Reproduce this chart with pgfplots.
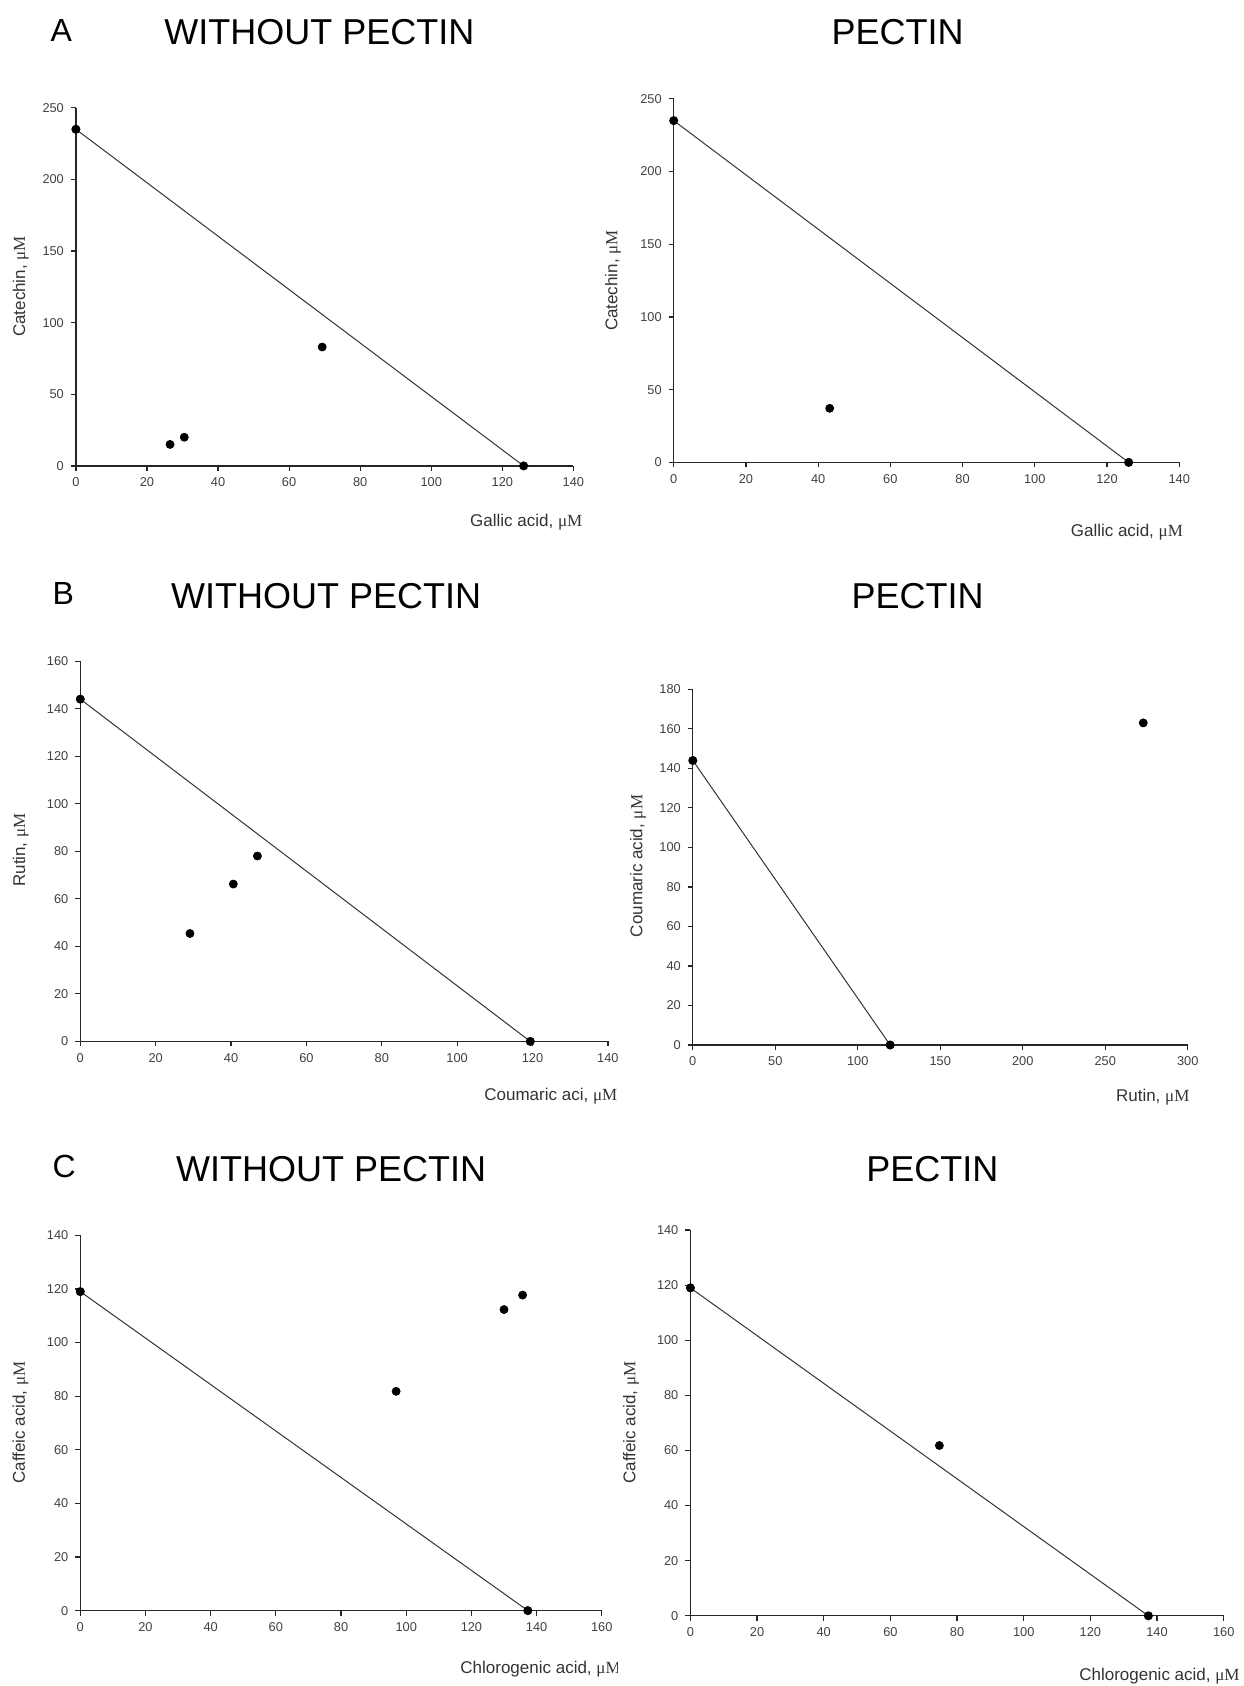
\documentclass[border=0pt]{standalone}
\usepackage{fontspec}
\setmainfont{Liberation Sans}
\newfontfamily\serif{Liberation Serif}
\usepackage{pgfplots}
\pgfplotsset{compat=1.18}

\newcommand{\uM}{{\serif μM}}
\newcommand{\ttl}{\fontsize{18bp}{20bp}\selectfont}
\newcommand{\lbl}{\fontsize{8.5bp}{10bp}\selectfont}

\pgfplotsset{
  panel/.style={
    scale only axis,
    anchor=south west,
    axis x line*=bottom,
    axis y line*=left,
    axis line style={-, line width=0.6bp, black!85},
    tick align=outside,
    major tick length=2.5bp,
    tick style={black!85, line width=0.6bp},
    ticklabel style={font=\fontsize{6.4bp}{7bp}\selectfont, text=black!75},
    /pgf/number format/assume math mode=true,
    enlargelimits=false,
    clip=false,
  },
  iso/.style={black!80, line width=0.5bp, mark=*, mark size=2bp, mark options={fill=black, draw=black}},
  pts/.style={only marks, mark=*, mark size=2bp, black},
}

\begin{document}
\begin{tikzpicture}
\path[use as bounding box] (0,0) rectangle (622bp,-843bp);

% ---------- A, without pectin
\begin{axis}[panel, at={(37.95bp,-232.95bp)}, width=248.75bp, height=179.05bp,
  xmin=0, xmax=140, ymin=0, ymax=250, xtick={0,20,...,140}, ytick={0,50,...,250}]
\addplot[iso] coordinates {(0,235) (126,0)};
\addplot[pts] coordinates {(26.5,15) (30.5,20) (69.3,83)};
\end{axis}

% ---------- A, pectin
\begin{axis}[panel, at={(336.85bp,-231.2bp)}, width=252.75bp, height=181.8bp,
  xmin=0, xmax=140, ymin=0, ymax=250, xtick={0,20,...,140}, ytick={0,50,...,250}]
\addplot[iso] coordinates {(0,235) (126,0)};
\addplot[pts] coordinates {(43.2,37.2)};
\end{axis}

% ---------- B, without pectin
\begin{axis}[panel, at={(40.15bp,-520.7bp)}, width=263.8bp, height=190.15bp,
  xmin=0, xmax=140, ymin=0, ymax=160, xtick={0,20,...,140}, ytick={0,20,...,160}]
\addplot[iso] coordinates {(0,144) (119.4,0)};
\addplot[pts] coordinates {(29.1,45.4) (40.6,66.2) (47,78)};
\end{axis}

% ---------- B, pectin
\begin{axis}[panel, at={(346.4bp,-522.5bp)}, width=247.5bp, height=177.85bp,
  xmin=0, xmax=300, ymin=0, ymax=180, xtick={0,50,...,300}, ytick={0,20,...,180}]
\addplot[iso] coordinates {(0,144) (119.6,0)};
\addplot[pts] coordinates {(273,163)};
\end{axis}

% ---------- C, without pectin
\begin{axis}[panel, at={(40.15bp,-805.3bp)}, width=260.75bp, height=187.65bp,
  xmin=0, xmax=160, ymin=0, ymax=140, xtick={0,20,...,160}, ytick={0,20,...,140}]
\addplot[iso] coordinates {(0,119) (137.3,0)};
\addplot[pts] coordinates {(96.9,81.8) (130,112.3) (135.7,117.7)};
\end{axis}

% ---------- C, pectin
\begin{axis}[panel, at={(345.2bp,-807.9bp)}, width=266.65bp, height=192.9bp,
  xmin=0, xmax=160, ymin=0, ymax=140, xtick={0,20,...,160}, ytick={0,20,...,140}]
\addplot[iso] coordinates {(0,119) (137.4,0)};
\addplot[pts] coordinates {(74.7,61.8)};
\end{axis}

% titles
\node[anchor=base west, font=\fontsize{16bp}{18bp}\selectfont] at (21.75bp,-20.65bp) {A};
\node[anchor=base, font=\ttl] at (159.65bp,-22.4bp) {WITHOUT PECTIN};
\node[anchor=base, font=\ttl] at (448.8bp,-22.4bp) {PECTIN};
\node[anchor=base west, font=\fontsize{16bp}{18bp}\selectfont] at (22.75bp,-302.3bp) {B};
\node[anchor=base, font=\ttl] at (163.1bp,-304bp) {WITHOUT PECTIN};
\node[anchor=base, font=\ttl] at (458.75bp,-304bp) {PECTIN};
\node[anchor=base west, font=\fontsize{16bp}{18bp}\selectfont] at (22.75bp,-588.95bp) {C};
\node[anchor=base, font=\ttl] at (165.6bp,-590.7bp) {WITHOUT PECTIN};
\node[anchor=base, font=\ttl] at (466.2bp,-590.7bp) {PECTIN};

% axis labels
\begin{scope}[every node/.style={font=\lbl, text=black!80, inner sep=0pt}]
\node[anchor=base east] at (291.35bp,-263bp) {Gallic acid, \uM};
\node[anchor=base east] at (591.65bp,-268bp) {Gallic acid, \uM};
\node[anchor=base east] at (594.9bp,-550.5bp) {Rutin, \uM};
\node[anchor=base east] at (620bp,-840bp) {Chlorogenic acid, \uM};
\begin{scope}
\clip (0,0) rectangle (308.7bp,-843bp);
\node[anchor=base west] at (242bp,-550.35bp) {Coumaric aci, \uM};
\node[anchor=base west] at (230bp,-836.65bp) {Chlorogenic acid, \uM};
\end{scope}
\node[rotate=90] at (10.4bp,-143.25bp) {Catechin, \uM};
\node[rotate=90] at (306.45bp,-140.3bp) {Catechin, \uM};
\node[rotate=90] at (10.4bp,-425bp) {Rutin, \uM};
\node[rotate=90] at (319bp,-433bp) {Coumaric acid, \uM};
\node[rotate=90] at (10.3bp,-711.3bp) {Caffeic acid, \uM};
\node[rotate=90] at (315.5bp,-711.3bp) {Caffeic acid, \uM};
\end{scope}
\end{tikzpicture}
\end{document}
